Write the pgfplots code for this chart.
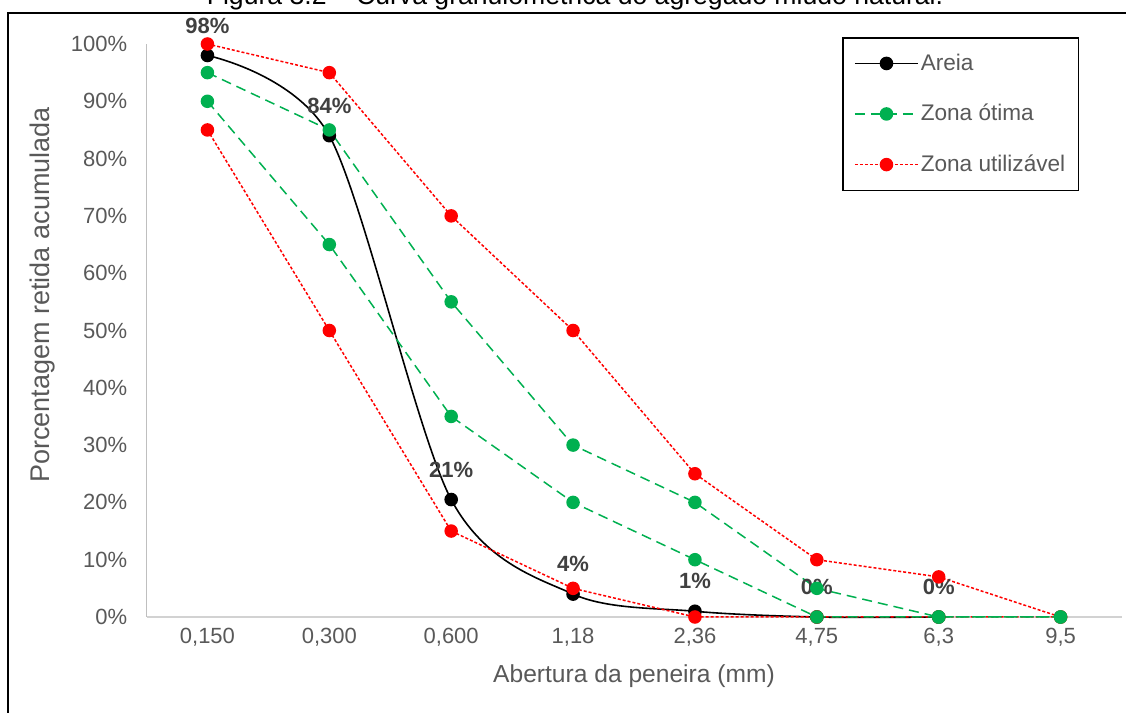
\documentclass[border=0pt]{standalone}
\usepackage{fontspec}
\setmainfont{Liberation Sans}
\usepackage{pgfplots}
\pgfplotsset{compat=1.18}
\definecolor{txtgray}{HTML}{595959}
\definecolor{lblgray}{HTML}{404040}
\definecolor{exgreen}{HTML}{00B050}
\definecolor{exred}{HTML}{FF0000}
\definecolor{axgray}{HTML}{BFBFBF}

\pgfplotstableread{
x y lbl
0 98 98
1 84 84
2 20.5 21
3 4 4
4 1 1
5 0 0
6 0 0
}\areia
\pgfplotstableread{
x y
0 90
1 65
2 35
3 20
4 10
5 0
6 0
7 0
}\otimainf
\pgfplotstableread{
x y
0 95
1 85
2 55
3 30
4 20
5 5
6 0
7 0
}\otimasup
\pgfplotstableread{
x y
0 85
1 50
2 15
3 5
4 0
5 0
6 0
7 0
}\utilinf
\pgfplotstableread{
x y
0 100
1 95
2 70
3 50
4 25
5 10
6 7
7 0
}\utilsup

\begin{document}
\begin{tikzpicture}[x=0.5pt,y=0.5pt]
\useasboundingbox (0,0) rectangle (1126,713);
\clip (0,0) rectangle (1126,713);
\coordinate (O) at (146.5,96);
\node[anchor=base, font=\fontsize{13.3}{16}\selectfont, inner sep=0pt] at (575,708) {Figura 3.2 – Curva granulométrica do agregado miúdo natural.};
\draw[line width=1pt] (8,-20) -- (8,700) -- (1150,700);
\begin{axis}[
  at={(O)}, anchor=south west,
  scale only axis, width=487.5pt, height=286.5pt,
  xmin=-0.5, xmax=7.5, ymin=0, ymax=100,
  clip=false,
  axis lines*=left,
  x axis line style={draw=axgray!70, line width=0.6pt},
  y axis line style={draw=axgray, line width=0.6pt},
  major tick length=0pt,
  xtick={0,...,7},
  xticklabels={{0,150},{0,300},{0,600},{1,18},{2,36},{4,75},{6,3},{9,5}},
  ytick={0,10,...,100},
  yticklabels={0\%,10\%,20\%,30\%,40\%,50\%,60\%,70\%,80\%,90\%,100\%},
  tick label style={font=\fontsize{11}{13}\selectfont, text=txtgray},
  xticklabel style={anchor=center, yshift=-10pt},
  yticklabel style={anchor=east, inner sep=0pt, xshift=-9.5pt},
  xlabel={Abertura da peneira (mm)},
  ylabel={Porcentagem retida acumulada},
  xlabel style={at={(axis description cs:0.5,-0.103)}, anchor=center, font=\fontsize{12.3}{14}\selectfont, text=txtgray},
  ylabel style={at={(axis description cs:-0.107,0.562)}, anchor=center, font=\fontsize{13.5}{16}\selectfont, text=txtgray},
  legend style={at={(axis description cs:0.9564,1.0122)}, anchor=north east,
    draw=black, line width=0.75pt, fill=white,
    font=\fontsize{11.3}{13}\selectfont, text=txtgray,
    nodes={inner xsep=1pt},
    inner xsep=5.5pt, inner ysep=6pt, row sep=11.5pt},
  legend cell align=left,
  /tikz/every even column/.append style={column sep=2pt},
  legend image code/.code={\draw[mark repeat=2,mark phase=2,#1] plot coordinates {(0pt,0pt)(15.75pt,0pt)(31.5pt,0pt)};},
]
\addlegendimage{black, line width=0.8pt, mark=*, mark size=3pt}
\addlegendentry{Areia}
\addlegendimage{exgreen, line width=0.75pt, dash pattern=on 5pt off 3pt, mark=*, mark size=3pt, mark options={solid}}
\addlegendentry{Zona ótima}
\addlegendimage{exred, line width=0.75pt, dash pattern=on 1.5pt off 1pt, mark=*, mark size=3pt, mark options={solid}}
\addlegendentry{Zona utilizável}

\addplot[forget plot, black, line width=0.8pt, smooth, tension=0.5, mark=*, mark size=3pt,
  nodes near coords={\pgfplotspointmeta\%}, point meta=explicit symbolic,
  every node near coord/.append style={font=\bfseries\fontsize{11}{13}\selectfont, text=lblgray, anchor=center, yshift=15pt}]
  table[x=x, y=y, meta=lbl] {\areia};
\addplot[forget plot, exred, line width=0.75pt, dash pattern=on 1.5pt off 1pt, mark=*, mark size=3pt, mark options={solid}] table[x=x, y=y] {\utilinf};
\addplot[forget plot, exred, line width=0.75pt, dash pattern=on 1.5pt off 1pt, mark=*, mark size=3pt, mark options={solid}] table[x=x, y=y] {\utilsup};
\addplot[forget plot, exgreen, line width=0.75pt, dash pattern=on 5pt off 3pt, mark=*, mark size=3pt, mark options={solid}] table[x=x, y=y] {\otimainf};
\addplot[forget plot, exgreen, line width=0.75pt, dash pattern=on 5pt off 3pt, mark=*, mark size=3pt, mark options={solid}] table[x=x, y=y] {\otimasup};
\end{axis}
\end{tikzpicture}
\end{document}
